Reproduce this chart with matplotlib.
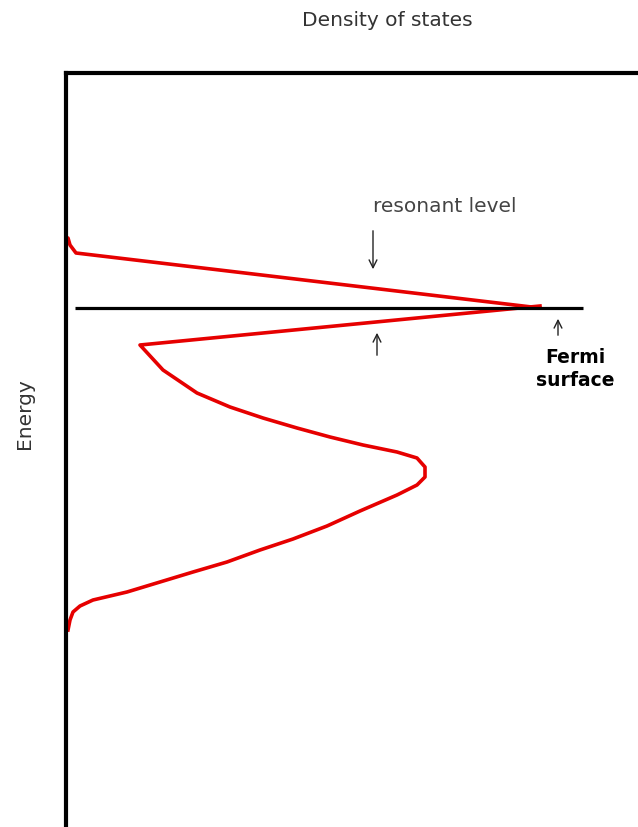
import matplotlib.pyplot as plt

# Kurvepunkter (tetthet fra aksen, energi fra bunnen), lest av bildet
upper_dos = [2, 4, 10, 474]
upper_energy = [589, 582, 574, 519]

lower_dos = [474, 74, 97, 131, 164, 197, 231, 264, 297, 331, 351, 359, 359, 351, 331,
             294, 261, 227, 194, 161, 127, 94, 61, 27, 14, 7, 4, 2]
lower_energy = [521, 482, 457, 434, 420, 409, 399, 390, 382, 375, 369, 360, 350, 342, 332,
                316, 301, 288, 277, 265, 255, 245, 235, 227, 221, 215, 207, 197]

fermi_energy = 519
fermi_span = (9, 517)

# Piler: (x, y_start, y_slutt)
arrows = [(307, 599, 555), (311, 469, 497), (492, 489, 511)]

fig = plt.figure(figsize=(6.38, 8.27), dpi=100)
ax = fig.add_axes([66 / 638, 0, 572 / 638, 754 / 827])
ax.set_xlim(0, 572)
ax.set_ylim(0, 754)

for side in ["right", "bottom"]:
    ax.spines[side].set_visible(False)
for side in ["left", "top"]:
    ax.spines[side].set_linewidth(3)
ax.set_xticks([])
ax.set_yticks([])

ax.plot(upper_dos, upper_energy, color="#e60000", lw=2.6, solid_capstyle="round")
ax.plot(lower_dos, lower_energy, color="#e60000", lw=2.6, solid_joinstyle="round")
ax.hlines(fermi_energy, *fermi_span, color="black", lw=2.3)

for x, y0, y1 in arrows:
    ax.annotate("", xy=(x, y1), xytext=(x, y0),
                arrowprops=dict(arrowstyle="->", lw=1, color="#222222", mutation_scale=14))

ax.text(379, 620, "resonant level", ha="center", va="center", fontsize=14.5, color="#444444")
ax.text(509, 458, "Fermi\nsurface", ha="center", va="center", fontsize=13.5,
        fontweight="bold", color="black", linespacing=1.25)

fig.text(387 / 638, 1 - 20 / 827, "Density of states", ha="center", va="center",
         fontsize=14.5, color="#333333")
fig.text(25 / 638, 1 - 414 / 827, "Energy", ha="center", va="center", rotation=90,
         fontsize=14.5, color="#333333")

fig.savefig("out.png", dpi=100)
